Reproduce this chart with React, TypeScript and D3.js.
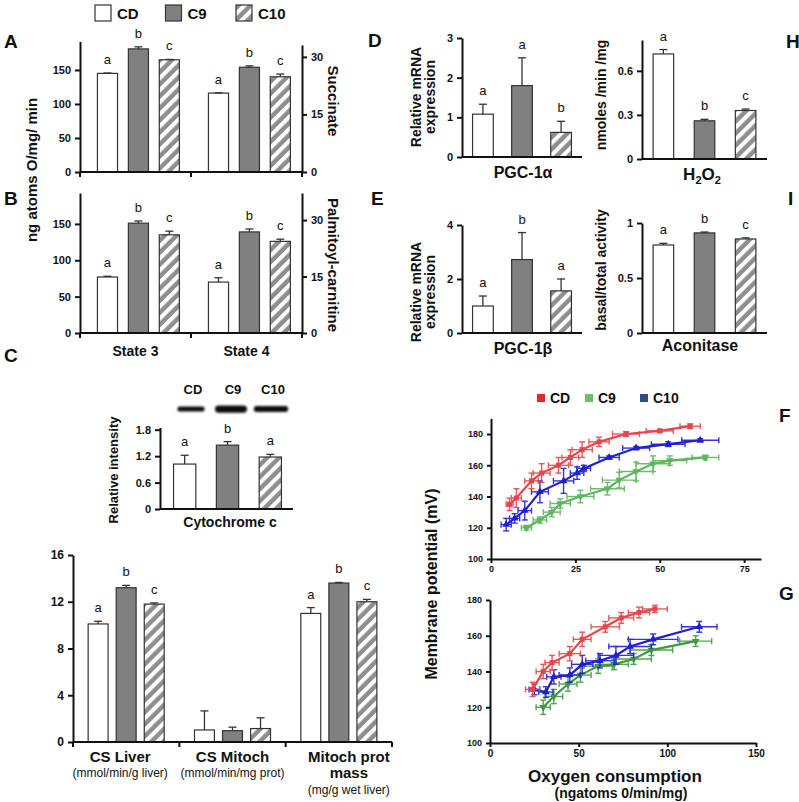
import React, { useEffect, useRef } from "react";
import * as d3 from "d3";

// groups and panel data
const groups = ["CD", "C9", "C10"];
const states = ["State 3", "State 4"];

const succinateMean = [[145, 181, 165], [116, 154, 140]];
const succinateErr = [[0.5, 3, 0.5], [0.5, 2, 4]];
const succinateLetters = [["a", "b", "c"], ["a", "b", "c"]];

const palmitoylMean = [[77, 151, 135], [70, 139, 126]];
const palmitoylErr = [[1, 3, 5], [6, 4, 3]];
const palmitoylLetters = [["a", "b", "c"], ["a", "b", "c"]];

const cytoMean = [1.02, 1.45, 1.18];
const cytoErr = [0.2, 0.08, 0.06];
const cytoLetters = ["a", "b", "a"];

const csCats = ["CS Liver", "CS Mitoch", "Mitoch prot mass"];
const csMean = [[10.1, 13.2, 11.8], [1.03, 0.97, 1.15], [11.0, 13.6, 12.0]];
const csErr = [[0.23, 0.2, 0.1], [1.63, 0.3, 0.92], [0.5, 0.05, 0.2]];
const csLetters = [["a", "b", "c"], ["", "", ""], ["a", "b", "c"]];

const pgc1aMean = [1.08, 1.8, 0.62];
const pgc1aErr = [0.25, 0.7, 0.28];
const pgc1aLetters = ["a", "a", "b"];

const pgc1bMean = [1.0, 2.72, 1.56];
const pgc1bErr = [0.37, 1.0, 0.44];
const pgc1bLetters = ["a", "b", "a"];

const h2o2Mean = [0.715, 0.26, 0.33];
const h2o2Err = [0.03, 0.01, 0.01];
const h2o2Letters = ["a", "b", "c"];

const aconMean = [0.8, 0.91, 0.855];
const aconErr = [0.015, 0.008, 0.01];
const aconLetters = ["a", "b", "c"];

// F / G: [oxygen consumption, membrane potential, x error, y error]
const fCD = [[5.5, 135, 1, 4], [7.5, 139, 1.5, 6], [12, 150, 2, 5], [15, 155, 2.5, 6], [20, 160, 3, 5], [23.5, 165, 2.5, 5], [27, 170, 3, 5], [32, 175, 3, 3], [40, 180, 4, 1.5], [50, 182, 4, 1], [59, 185, 3, 1.5]];
const fC10 = [[4.5, 122, 1.5, 4], [7, 126, 1.5, 3], [10, 131, 2, 6], [14.5, 143, 2.5, 7], [21.5, 150, 3, 8], [25.5, 155, 2, 4], [27.5, 158, 2, 2], [35, 165, 3, 1], [43, 171, 4, 1], [52.5, 173.5, 5, 1.5], [62, 176, 5.5, 1]];
const fC9 = [[10.5, 120, 1.5, 1.5], [14.5, 125, 2, 2], [18, 130, 2.5, 3], [20.5, 135.5, 3, 3], [26.5, 140, 4, 4], [34.5, 145, 5, 4], [38, 150.5, 5, 5], [43, 156, 5, 6], [48, 161, 5, 5], [53, 163, 5, 3], [63.5, 165, 4, 1.5]];

const gCD = [[24, 130, 4, 4], [30, 140, 4, 4], [35, 145, 4, 4], [45, 150, 6, 4], [52, 158, 5, 4], [65, 165, 8, 3], [74, 170, 7, 3], [84, 173, 6, 3], [93, 175, 7, 2]];
const gC10 = [[25, 130, 3, 3], [31.5, 128.5, 4, 3], [36, 137, 4, 4], [45, 138, 6, 4], [52, 144, 6, 5], [62, 146, 8, 4], [71, 149, 10, 5], [79, 154, 12, 4], [92, 158, 14, 3], [118, 165, 10, 3]];
const gC9 = [[30, 120, 4, 4], [36, 126, 5, 4], [44, 133, 5, 4], [51, 138, 6, 4], [61, 143, 8, 4], [70, 144, 8, 3], [81, 147, 10, 3], [91, 152, 12, 3], [116, 157, 9, 3]];

const FONT = "'Liberation Sans', Arial, sans-serif";

function txt(g: any, x: number, y: number, s: string, o: any = {}) {
  const t = g.append("text").attr("x", x).attr("y", y).text(s)
    .attr("font-family", FONT).attr("font-size", o.size ?? 13)
    .attr("font-weight", o.bold === false ? "normal" : "bold")
    .attr("text-anchor", o.anchor ?? "middle").attr("fill", o.fill ?? "#111");
  if (o.rotate) t.attr("transform", `rotate(${o.rotate},${x},${y})`);
  return t;
}

function yAxis(g: any, y: any, x: number, ticks: number[], o: any = {}) {
  const ax = (o.right ? d3.axisRight(y) : d3.axisLeft(y))
    .tickValues(ticks).tickSizeInner(o.tick ?? 5).tickSizeOuter(0).tickPadding(o.pad ?? 4)
    .tickFormat((d: any) => String(d));
  const a = g.append("g").attr("transform", `translate(${x},0)`).call(ax);
  a.select(".domain").attr("stroke", "#111").attr("stroke-width", 2);
  a.selectAll(".tick line").attr("stroke", "#111").attr("stroke-width", 2);
  a.selectAll(".tick text").attr("font-family", FONT).attr("font-weight", "bold")
    .attr("font-size", o.size ?? 11).attr("fill", "#111");
}

function baseLine(g: any, x0: number, x1: number, y: number, ticks: number[] = []) {
  g.append("line").attr("x1", x0).attr("x2", x1).attr("y1", y).attr("y2", y)
    .attr("stroke", "#111").attr("stroke-width", 2);
  ticks.forEach(t => g.append("line").attr("x1", t).attr("x2", t).attr("y1", y).attr("y2", y + 5)
    .attr("stroke", "#111").attr("stroke-width", 2));
}

function bars(g: any, x: any, y: any, means: number[], errs: number[], letters: string[], off = 0) {
  const w = x.bandwidth();
  means.forEach((v, i) => {
    const grp = groups[i];
    const bx = off + x(grp);
    const fill = grp === "CD" ? "#fff" : grp === "C9" ? "#808080" : "url(#hatch)";
    g.append("rect").attr("x", bx).attr("y", y(v)).attr("width", w).attr("height", y(0) - y(v))
      .attr("fill", fill).attr("stroke", "#333").attr("stroke-width", 1.2);
    const cx = bx + w / 2;
    const top = y(v + errs[i]);
    g.append("line").attr("x1", cx).attr("x2", cx).attr("y1", y(v)).attr("y2", top)
      .attr("stroke", "#333").attr("stroke-width", 1.3);
    g.append("line").attr("x1", cx - 4).attr("x2", cx + 4).attr("y1", top).attr("y2", top)
      .attr("stroke", "#333").attr("stroke-width", 1.3);
    if (letters[i]) txt(g, cx, top - 9, letters[i], { bold: false, size: 13 });
  });
}

function curves(g: any, x: any, y: any, series: any[]) {
  series.forEach(s => {
    const eg = g.append("g").attr("stroke", s.color).attr("stroke-width", 1.4).attr("opacity", 0.9);
    s.data.forEach(([px, py, xe, ye]: number[]) => {
      eg.append("line").attr("x1", x(px - xe)).attr("x2", x(px + xe)).attr("y1", y(py)).attr("y2", y(py));
      eg.append("line").attr("x1", x(px)).attr("x2", x(px)).attr("y1", y(py - ye)).attr("y2", y(py + ye));
      [px - xe, px + xe].forEach(v => eg.append("line").attr("x1", x(v)).attr("x2", x(v)).attr("y1", y(py) - 3).attr("y2", y(py) + 3));
      [py - ye, py + ye].forEach(v => eg.append("line").attr("x1", x(px) - 3).attr("x2", x(px) + 3).attr("y1", y(v)).attr("y2", y(v)));
    });
    const line = d3.line<number[]>().x(d => x(d[0])).y(d => y(d[1]));
    g.append("path").datum(s.data).attr("d", line).attr("fill", "none")
      .attr("stroke", s.color).attr("stroke-width", 2.2);
    const sym = d3.symbol().type(s.shape).size(26);
    s.data.forEach(([px, py]: number[]) => {
      g.append("path").attr("d", sym).attr("fill", s.color)
        .attr("transform", `translate(${x(px)},${y(py)})${s.flip ? " rotate(180)" : ""}`);
    });
  });
}

const App = () => {
  const svgRef = useRef<SVGSVGElement>(null);

  useEffect(() => {
    const svg = d3.select(svgRef.current);
    svg.selectAll("*").remove();

    const defs = svg.append("defs");
    const pat = defs.append("pattern").attr("id", "hatch").attr("patternUnits", "userSpaceOnUse")
      .attr("width", 8.5).attr("height", 8.5).attr("patternTransform", "rotate(45)");
    pat.append("rect").attr("width", 8.5).attr("height", 8.5).attr("fill", "#fff");
    pat.append("line").attr("x1", 2.5).attr("x2", 2.5).attr("y1", 0).attr("y2", 8.5)
      .attr("stroke", "#8e8e8e").attr("stroke-width", 4.5);
    defs.append("filter").attr("id", "blur").attr("x", "-20%").attr("y", "-100%")
      .attr("width", "140%").attr("height", "300%")
      .append("feGaussianBlur").attr("stdDeviation", 1.3);

    const g = svg.append("g");

    // legend
    const legX = d3.scalePoint(groups, [95, 236]);
    groups.forEach(grp => {
      const fill = grp === "CD" ? "#fff" : grp === "C9" ? "#808080" : "url(#hatch)";
      g.append("rect").attr("x", legX(grp)).attr("y", 5).attr("width", 16).attr("height", 16)
        .attr("fill", fill).attr("stroke", "#333").attr("stroke-width", 1.2);
      txt(g, legX(grp)! + 22, 19, grp, { size: 15, anchor: "start" });
    });

    // panel letters
    [["A", 4, 48], ["B", 4, 205], ["C", 4, 362], ["D", 368, 47], ["E", 371, 205],
     ["H", 786, 48], ["I", 788, 205], ["F", 779, 422], ["G", 779, 600]].forEach(([s, x, y]) =>
      txt(g, x as number, y as number, s as string, { size: 19, anchor: "start" }));

    // A & B
    const outerAB = d3.scaleBand(states, [80, 302]);
    const innerAB = d3.scaleBand(groups, [0, outerAB.bandwidth()]).paddingInner(0.35).paddingOuter(0.47).align(0.6);
    const abTicks = [80, outerAB("State 4")!, 302];

    const yA = d3.scaleLinear([0, 192], [172, 41.4]);
    const yAR = d3.scaleLinear([0, 33.1], [172, 45]);
    states.forEach((st, k) => bars(g, innerAB, yA, succinateMean[k], succinateErr[k], succinateLetters[k], outerAB(st)!));
    yAxis(g, yA, 80, [0, 50, 100, 150]);
    yAxis(g, yAR, 302, [0, 15, 30], { right: true });
    baseLine(g, 80, 302, 172, abTicks);
    txt(g, 328, 101, "Succinate", { size: 15, rotate: 90 });

    const yB = d3.scaleLinear([0, 192.5], [333, 193]);
    const yBR = d3.scaleLinear([0, 37.2], [333, 193]);
    states.forEach((st, k) => bars(g, innerAB, yB, palmitoylMean[k], palmitoylErr[k], palmitoylLetters[k], outerAB(st)!));
    yAxis(g, yB, 80, [0, 50, 100, 150]);
    yAxis(g, yBR, 302, [0, 15, 30], { right: true });
    baseLine(g, 80, 302, 333, abTicks);
    txt(g, 328, 265, "Palmitoyl-carnitine", { size: 15, rotate: 90 });
    states.forEach(st => txt(g, outerAB(st)! + outerAB.bandwidth() / 2, 356, st, { size: 14 }));
    txt(g, 37, 170, "ng atoms O/mg/ min", { size: 15, rotate: -90 });

    // C: blot + cytochrome c
    const lanes = d3.scaleBand(groups, [171, 291]);
    const bandW = [0.68, 0.8, 0.86];
    groups.forEach((grp, i) => {
      const cx = lanes(grp)! + lanes.bandwidth() / 2;
      txt(g, cx + 2, 394, grp, { size: 13 });
      const h = 5 * cytoMean[i];
      const w = lanes.bandwidth() * bandW[i];
      g.append("rect").attr("x", cx - w / 2).attr("y", 409 - h / 2).attr("width", w).attr("height", h)
        .attr("rx", h / 2).attr("fill", "#111").attr("filter", "url(#blur)");
    });
    const xC = d3.scaleBand(groups, [162, 293]).paddingInner(0.48).paddingOuter(0.27);
    const yC = d3.scaleLinear([0, 1.85], [509, 427.5]);
    bars(g, xC, yC, cytoMean, cytoErr, cytoLetters);
    yAxis(g, yC, 160, [0, 0.6, 1.2, 1.8]);
    baseLine(g, 160, 293, 509);
    txt(g, 230, 527, "Cytochrome c", { size: 14 });
    txt(g, 118, 470, "Relative intensity", { size: 13, rotate: -90 });

    // citrate synthase panel
    const outerCS = d3.scaleBand(csCats, [73, 392]);
    const innerCS = d3.scaleBand(groups, [0, outerCS.bandwidth()]).paddingInner(0.29).paddingOuter(0.54);
    const yCS = d3.scaleLinear([0, 16], [742, 555]);
    csCats.forEach((c, k) => bars(g, innerCS, yCS, csMean[k], csErr[k], csLetters[k], outerCS(c)!));
    yAxis(g, yCS, 73, [0, 4, 8, 12, 16], { size: 12 });
    baseLine(g, 73, 392, 742, [73, outerCS("CS Mitoch")!, outerCS("Mitoch prot mass")!, 392]);
    const csMid = (c: string) => outerCS(c)! + outerCS.bandwidth() / 2;
    txt(g, csMid("CS Liver") - 6, 762, "CS Liver", { size: 15 });
    txt(g, csMid("CS Liver") - 6, 777, "(mmol/min/g liver)", { size: 12, bold: false });
    txt(g, csMid("CS Mitoch"), 762, "CS Mitoch", { size: 15 });
    txt(g, csMid("CS Mitoch"), 777, "(mmol/min/mg prot)", { size: 12, bold: false });
    txt(g, csMid("Mitoch prot mass") + 10, 762, "Mitoch prot", { size: 15 });
    txt(g, csMid("Mitoch prot mass") + 10, 778, "mass", { size: 15 });
    txt(g, csMid("Mitoch prot mass") + 10, 794, "(mg/g wet liver)", { size: 12, bold: false });

    // D, E
    const xDE = d3.scaleBand(groups, [462, 582]).paddingInner(0.47).paddingOuter(0.27);
    const yD = d3.scaleLinear([0, 3], [157, 38]);
    bars(g, xDE, yD, pgc1aMean, pgc1aErr, pgc1aLetters);
    yAxis(g, yD, 462, [0, 1, 2, 3]);
    baseLine(g, 462, 582, 157);
    txt(g, 523, 178, "PGC-1\u03b1", { size: 16 });
    txt(g, 421, 97, "Relative mRNA", { size: 14, rotate: -90 });
    txt(g, 435, 97, "expression", { size: 14, rotate: -90 });

    const yE = d3.scaleLinear([0, 4], [333, 225]);
    bars(g, xDE, yE, pgc1bMean, pgc1bErr, pgc1bLetters);
    yAxis(g, yE, 462, [0, 2, 4]);
    baseLine(g, 462, 582, 333);
    txt(g, 523, 354, "PGC-1\u03b2", { size: 16 });
    txt(g, 421, 292, "Relative mRNA", { size: 14, rotate: -90 });
    txt(g, 435, 292, "expression", { size: 14, rotate: -90 });

    // H, I
    const xHI = d3.scaleBand(groups, [642, 767]).paddingInner(0.5).paddingOuter(0.27);
    const yH = d3.scaleLinear([0, 0.81], [159, 40]);
    bars(g, xHI, yH, h2o2Mean, h2o2Err, h2o2Letters);
    yAxis(g, yH, 642, [0, 0.3, 0.6]);
    baseLine(g, 642, 767, 159);
    const h2 = g.append("text").attr("x", 702).attr("y", 180).attr("text-anchor", "middle")
      .attr("font-family", FONT).attr("font-weight", "bold").attr("font-size", 17).attr("fill", "#111");
    h2.append("tspan").text("H");
    h2.append("tspan").text("2").attr("font-size", 11).attr("dy", 4);
    h2.append("tspan").text("O").attr("dy", -4);
    h2.append("tspan").text("2").attr("font-size", 11).attr("dy", 4);
    txt(g, 606, 95, "nmoles /min /mg", { size: 14, rotate: -90 });

    const yI = d3.scaleLinear([0, 1], [333, 223]);
    bars(g, xHI, yI, aconMean, aconErr, aconLetters);
    yAxis(g, yI, 642, [0, 0.5, 1]);
    baseLine(g, 642, 767, 333);
    txt(g, 700, 351, "Aconitase", { size: 16 });
    txt(g, 606, 270, "basal/total activity", { size: 14, rotate: -90 });

    // F legend
    const legColors = ["#e02a2a", "#6cc06c", "#2c4a8c"];
    const legPos = [537, 585, 640];
    groups.forEach((grp, i) => {
      g.append("rect").attr("x", legPos[i]).attr("y", 394).attr("width", 8).attr("height", 8).attr("fill", legColors[i]);
      txt(g, legPos[i] + 13, 403, grp, { size: 14, anchor: "start" });
    });

    // F
    const xF = d3.scaleLinear([0, 80], [491, 761]);
    const yF = d3.scaleLinear([100, 190], [559, 418.4]);
    curves(g, xF, yF, [
      { data: fC9, color: "#5db55d", shape: d3.symbolTriangle, flip: true },
      { data: fC10, color: "#1f1fcf", shape: d3.symbolTriangle },
      { data: fCD, color: "#e5464b", shape: d3.symbolSquare },
    ]);
    yAxis(g, yF, 491, [100, 120, 140, 160, 180], { size: 9, tick: 4 });
    const fx = g.append("g").attr("transform", "translate(0,559)")
      .call(d3.axisBottom(xF).tickValues([0, 25, 50, 75]).tickSizeInner(4).tickSizeOuter(0).tickPadding(3));
    fx.select(".domain").attr("stroke", "#111").attr("stroke-width", 2);
    fx.selectAll(".tick line").attr("stroke", "#111").attr("stroke-width", 2);
    fx.selectAll(".tick text").attr("font-family", FONT).attr("font-weight", "bold").attr("font-size", 9).attr("fill", "#111");

    // G
    const xG = d3.scaleLinear([0, 150], [490, 756]);
    const yG = d3.scaleLinear([100, 180], [743, 600]);
    curves(g, xG, yG, [
      { data: gC9, color: "#3f9a3f", shape: d3.symbolTriangle, flip: true },
      { data: gC10, color: "#1f1fcf", shape: d3.symbolTriangle },
      { data: gCD, color: "#e5464b", shape: d3.symbolSquare },
    ]);
    yAxis(g, yG, 490, [100, 120, 140, 160, 180], { size: 9, tick: 4 });
    const gx = g.append("g").attr("transform", "translate(0,743)")
      .call(d3.axisBottom(xG).tickValues([0, 50, 100, 150]).tickSizeInner(4).tickSizeOuter(0).tickPadding(3));
    gx.select(".domain").attr("stroke", "#111").attr("stroke-width", 2);
    gx.selectAll(".tick line").attr("stroke", "#111").attr("stroke-width", 2);
    gx.selectAll(".tick text").attr("font-family", FONT).attr("font-weight", "bold").attr("font-size", 10).attr("fill", "#111");

    txt(g, 437, 584, "Membrane potential (mV)", { size: 16, rotate: -90 });
    txt(g, 615, 782, "Oxygen consumption", { size: 17 });
    txt(g, 621, 798, "(ngatoms 0/min/mg)", { size: 14 });
  }, []);

  return (
    <svg ref={svgRef} width={799} height={802}
      style={{ position: "absolute", left: 0, top: 0, background: "#fff" }} />
  );
};

export default App;
